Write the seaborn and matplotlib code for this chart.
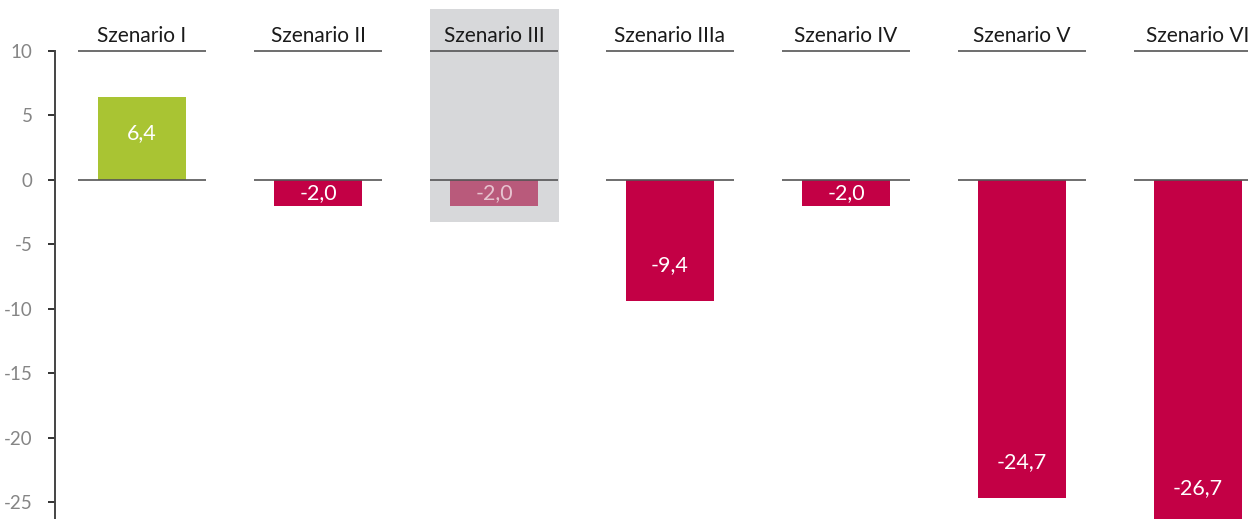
import numpy as np
import pandas as pd
import matplotlib
matplotlib.use("Agg")
import matplotlib.pyplot as plt
import seaborn as sns
from matplotlib.patches import Rectangle

# Daten
szenarien = ["Szenario I", "Szenario II", "Szenario III", "Szenario IIIa",
             "Szenario IV", "Szenario V", "Szenario VI"]
werte = [6.4, -2.0, -2.0, -9.4, -2.0, -24.7, -26.7]
hervorgehoben = "Szenario III"
y_ticks = [10, 5, 0, -5, -10, -15, -20, -25]

GRUEN = "#A9C433"
ROT = "#C30045"
ROT_HELL = "#B95A7B"
GRAU = "#D7D8DA"
LINIE = "#555555"

sns.set_style("white")
plt.rcParams['font.family'] = ['Lato', 'DejaVu Sans']

df = pd.DataFrame({"Szenario": szenarien, "Wert": werte})
farben = {}
for s, v in zip(szenarien, werte):
    if s == hervorgehoben:
        farben[s] = ROT_HELL
    else:
        farben[s] = GRUEN if v > 0 else ROT

fig = plt.figure(figsize=(12.48, 5.19), dpi=100)
ax = fig.add_axes([55 / 1248, 0, 1 - 55 / 1248, 1])

# Hervorhebung hinter Szenario III
i_h = szenarien.index(hervorgehoben)
ax.add_patch(Rectangle((i_h - 0.366, -3.26), 0.733, 16.52, color=GRAU, zorder=0, lw=0))

sns.barplot(data=df, x="Szenario", y="Wert", hue="Szenario", palette=farben,
            width=0.5, legend=False, ax=ax, zorder=2, saturation=1,
            linewidth=0, edgecolor="none")

ax.set_xlim(-0.494, 6.284)
ax.set_ylim(-26.32, 13.96)

# Linien oben und bei null pro Szenario, Titel darueber
for i, (s, v) in enumerate(zip(szenarien, werte)):
    for yl in (10, 0):
        ax.plot([i - 0.364, i + 0.364], [yl, yl], color=LINIE, lw=1.2, zorder=3,
                solid_capstyle="butt")
    ax.text(i, 10.72, s, ha="center", va="baseline", fontsize=15, color="#1a1a1a")
    if abs(v) < 3:
        ly = v / 2
    else:
        ly = v - np.sign(v) * 2.8
    lc = "#E6C3CF" if s == hervorgehoben else "white"
    ax.text(i, ly, f"{v:.1f}".replace(".", ","), ha="center", va="center",
            fontsize=15.5, color=lc, zorder=4)

ax.set_yticks(y_ticks)
ax.set_yticklabels([str(t) for t in y_ticks])
ax.set_xticks([])
ax.set_xlabel("")
ax.set_ylabel("")
for side in ["top", "right", "bottom"]:
    ax.spines[side].set_visible(False)
ax.spines["left"].set_color("#444444")
ax.spines["left"].set_linewidth(1.4)
ax.spines["left"].set_bounds(-30, 10)
ax.tick_params(axis="y", length=5, width=1.4, color="#333333", pad=11,
               labelsize=13.5, labelcolor="#858585", left=True)

fig.savefig("out.png", dpi=100)
